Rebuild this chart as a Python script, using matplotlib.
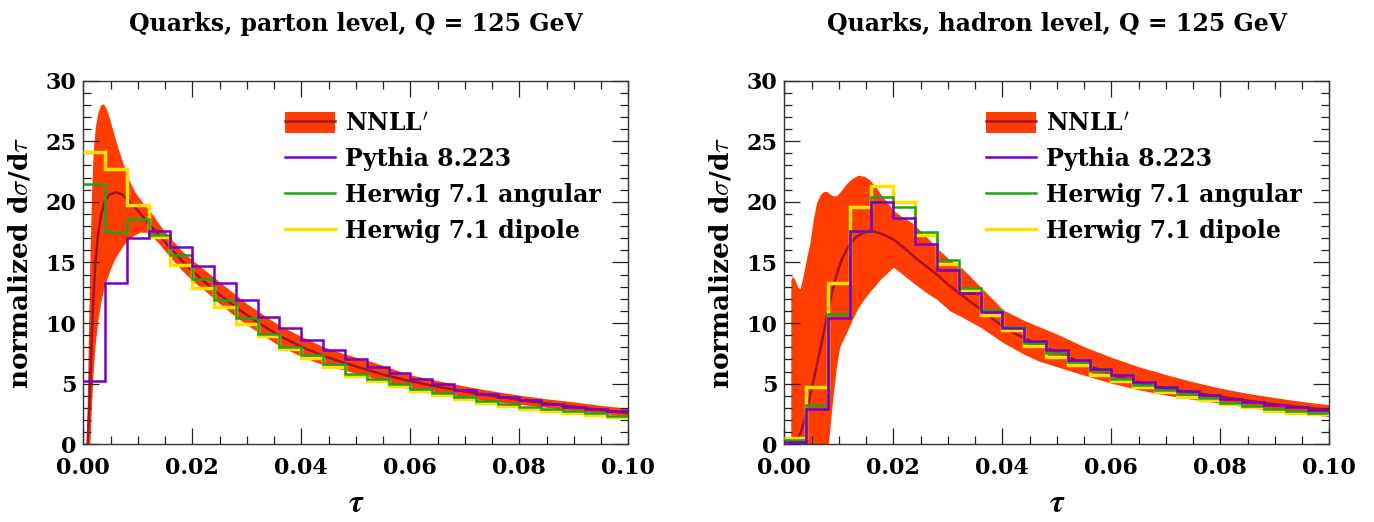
import matplotlib
matplotlib.use('Agg')
import matplotlib.pyplot as plt
import numpy as np
from matplotlib.patches import Patch
from matplotlib.lines import Line2D
from matplotlib.ticker import MultipleLocator, FormatStrFormatter

plt.rcParams['font.family'] = 'DejaVu Serif'
plt.rcParams['font.weight'] = 'bold'
plt.rcParams['mathtext.fontset'] = 'cm'

# bin edges shared by all MC histograms
edges = np.linspace(0.0, 0.1, 26)

# ---- parton level ----
pythia_parton = [5.25, 13.3, 17.05, 17.6, 16.3, 14.7, 13.3, 11.9, 10.5, 9.57, 8.6, 7.78, 7.0,
                 6.4, 5.9, 5.36, 4.98, 4.48, 4.13, 3.88, 3.66, 3.3, 3.1, 2.89, 2.75]
angular_parton = [21.5, 17.5, 18.6, 17.3, 15.6, 13.6, 11.9, 10.4, 9.07, 8.05, 7.37, 6.6, 5.8,
                  5.36, 4.95, 4.56, 4.21, 3.88, 3.57, 3.3, 3.1, 2.91, 2.75, 2.56, 2.37]
dipole_parton = [24.1, 22.7, 19.7, 17.1, 14.8, 12.9, 11.3, 9.9, 8.9, 7.86, 7.15, 6.4, 5.66,
                 5.22, 4.81, 4.43, 4.07, 3.74, 3.44, 3.16, 2.94, 2.75, 2.61, 2.42, 2.28]

tau_c_parton = [0.0008, 0.0012, 0.0015, 0.0018, 0.0022, 0.0027, 0.0033, 0.0040, 0.0048, 0.0060,
                0.0072, 0.0085, 0.0100, 0.0120, 0.0140, 0.0160, 0.0180, 0.0200, 0.0240, 0.0280,
                0.0320, 0.0360, 0.0400, 0.0440, 0.0480, 0.0550, 0.0600, 0.0650, 0.0700, 0.0750,
                0.0800, 0.0850, 0.0900, 0.0950, 0.1000]
nnll_c_parton = [0.0, 4.0, 8.0, 11.5, 14.8, 17.3, 19.0, 20.1, 20.6, 20.8,
                 20.6, 20.0, 19.3, 18.2, 17.2, 16.2, 15.2, 14.3, 12.7, 11.3,
                 10.05, 8.95, 8.05, 7.3, 6.7, 5.75, 5.2, 4.75, 4.35, 4.0,
                 3.66, 3.37, 3.1, 2.83, 2.57]

tau_b_parton = [0.0004, 0.0006, 0.0009, 0.0012, 0.0015, 0.0018, 0.0022, 0.0027, 0.0032, 0.0037,
                0.0043, 0.0050, 0.0058, 0.0066, 0.0075, 0.0085, 0.0095, 0.0105, 0.0115, 0.0125,
                0.0140, 0.0160, 0.0180, 0.0200, 0.0225, 0.0250, 0.0275, 0.0300, 0.0330, 0.0360,
                0.0400, 0.0440, 0.0480, 0.0530, 0.0600, 0.0650, 0.0700, 0.0750, 0.0800, 0.0850,
                0.0900, 0.0950, 0.1000]
nnll_hi_parton = [-1.0, 0.0, 8.0, 15.0, 20.5, 24.0, 26.2, 27.4, 28.0, 28.1,
                  27.6, 26.6, 25.3, 24.1, 22.9, 21.7, 20.8, 20.2, 19.6, 19.1,
                  18.1, 17.0, 16.0, 15.2, 14.3, 13.4, 12.5, 11.6, 10.7, 9.8,
                  8.9, 8.05, 7.45, 6.8, 5.73, 5.25, 4.8, 4.4, 4.05, 3.75,
                  3.5, 3.2, 2.98]
nnll_lo_parton = [-3.0, -2.5, -1.2, 0.0, 3.0, 5.9, 8.3, 10.3, 11.7, 12.7,
                  13.6, 14.5, 15.3, 15.9, 16.5, 17.0, 17.3, 17.5, 17.5, 17.2,
                  16.5, 15.4, 14.4, 13.5, 12.6, 11.6, 10.7, 9.85, 9.0, 8.1,
                  7.25, 6.55, 6.1, 5.5, 4.55, 4.15, 3.85, 3.55, 3.3, 3.05,
                  2.8, 2.55, 2.3]

# ---- hadron level ----
pythia_hadron = [0.2, 2.9, 10.4, 17.6, 19.95, 18.7, 16.5, 14.4, 12.5, 10.95, 9.6, 8.56, 7.8,
                 6.94, 6.25, 5.73, 5.17, 4.76, 4.43, 4.08, 3.77, 3.47, 3.25, 3.06, 2.84]
angular_hadron = [0.35, 3.25, 10.76, 17.6, 20.4, 19.6, 17.5, 15.2, 12.9, 11.1, 9.65, 8.34, 7.57,
                  6.8, 6.06, 5.4, 4.9, 4.49, 4.13, 3.8, 3.44, 3.17, 2.95, 2.76, 2.57]
dipole_hadron = [0.5, 4.76, 13.3, 19.6, 21.3, 19.95, 17.3, 14.9, 12.7, 10.7, 9.4, 8.12, 7.24,
                 6.5, 5.75, 5.2, 4.71, 4.3, 3.94, 3.66, 3.33, 3.06, 2.78, 2.6, 2.48]

tau_c_hadron = [0.0010, 0.0020, 0.0030, 0.0039, 0.0050, 0.0059, 0.0070, 0.0078, 0.0087, 0.0096,
                0.0105, 0.0115, 0.0125, 0.0135, 0.0145, 0.0155, 0.0165, 0.0180, 0.0200, 0.0220,
                0.0240, 0.0260, 0.0280, 0.0300, 0.0320, 0.0340, 0.0362, 0.0380, 0.0401, 0.0420,
                0.0441, 0.0468, 0.0500, 0.0550, 0.0600, 0.0650, 0.0700, 0.0750, 0.0800, 0.0850,
                0.0900, 0.0950, 0.1000]
nnll_c_hadron = [0.0, 0.2, 0.9, 2.3, 4.5, 6.4, 8.7, 10.5, 12.4, 14.0,
                 15.2, 16.1, 16.8, 17.2, 17.45, 17.55, 17.55, 17.35, 16.9, 16.2,
                 15.4, 14.7, 14.0, 13.2, 12.5, 11.8, 11.1, 10.45, 9.7, 9.2,
                 8.75, 8.2, 7.6, 6.65, 5.75, 5.1, 4.6, 4.25, 3.94, 3.6,
                 3.3, 3.05, 2.84]

tau_b_hadron = [0.00119, 0.0012, 0.0015, 0.0020, 0.0025, 0.0029, 0.0035, 0.0042, 0.0047, 0.0053,
                0.0059, 0.0066, 0.0072, 0.0078, 0.0081, 0.0085, 0.0090, 0.0096, 0.0102, 0.0114,
                0.0125, 0.0136, 0.0147, 0.0157, 0.0167, 0.0176, 0.0188, 0.0200, 0.0215, 0.0237,
                0.0261, 0.0280, 0.0304, 0.0322, 0.0362, 0.0401, 0.0441, 0.0468, 0.0500, 0.0550,
                0.0600, 0.0650, 0.0700, 0.0750, 0.0800, 0.0850, 0.0900, 0.0950, 0.1000]
nnll_hi_hadron = [-1.0, 13.5, 13.9, 13.5, 12.95, 12.8, 14.0, 15.6, 16.6, 18.5,
                  19.9, 20.6, 20.85, 20.85, 20.75, 20.6, 20.5, 20.5, 20.8, 21.5,
                  21.95, 22.2, 22.1, 21.8, 21.3, 20.7, 20.0, 19.3, 18.8, 18.2,
                  17.1, 16.2, 15.2, 14.7, 12.9, 11.1, 10.2, 9.7, 9.1, 8.05,
                  7.18, 6.4, 5.75, 5.15, 4.63, 4.2, 3.85, 3.53, 3.25]
nnll_lo_hadron = [-8.0, -8.0, -8.0, -8.0, -8.0, -8.0, -8.0, -8.0, -8.0, -8.0,
                  -8.0, -6.0, -4.0, -1.0, 0.0, 2.0, 4.2, 6.5, 8.06, 9.2,
                  10.3, 11.3, 12.0, 12.6, 13.1, 13.6, 14.1, 14.6, 14.1, 13.3,
                  12.5, 11.95, 11.0, 10.6, 9.6, 8.4, 7.4, 6.85, 6.4, 5.7,
                  5.04, 4.5, 4.05, 3.7, 3.39, 3.05, 2.75, 2.5, 2.29]

titles = ['Quarks, parton level, Q = 125 GeV', 'Quarks, hadron level, Q = 125 GeV']

band_col = '#ff3d00'
line_col = '#a3122e'
pythia_col = '#7a00c4'
angular_col = '#1fa31f'
dipole_col = '#ffe100'

fig = plt.figure(figsize=(13.74, 5.22), dpi=100)
ax_l = fig.add_axes([0.0606, 0.1489, 0.3967, 0.6966])
ax_r = fig.add_axes([0.5708, 0.1489, 0.3967, 0.6966])

panels = [
    (ax_l, tau_b_parton, nnll_lo_parton, nnll_hi_parton, tau_c_parton, nnll_c_parton,
     pythia_parton, angular_parton, dipole_parton, titles[0]),
    (ax_r, tau_b_hadron, nnll_lo_hadron, nnll_hi_hadron, tau_c_hadron, nnll_c_hadron,
     pythia_hadron, angular_hadron, dipole_hadron, titles[1]),
]

for ax, tb, lo, hi, tc, cc, py, ang, dip, title in panels:
    ax.fill_between(tb, lo, hi, color=band_col, lw=0, zorder=1)
    ax.plot(tc, cc, color=line_col, lw=1.8, zorder=2)
    ax.stairs(dip, edges, baseline=None, color=dipole_col, lw=2.5, zorder=3)
    ax.stairs(ang, edges, baseline=None, color=angular_col, lw=1.8, zorder=4)
    ax.stairs(py, edges, baseline=None, color=pythia_col, lw=1.8, zorder=5)

    ax.set_xlim(0, 0.1)
    ax.set_ylim(0, 30)
    ax.xaxis.set_major_locator(MultipleLocator(0.02))
    ax.xaxis.set_minor_locator(MultipleLocator(0.005))
    ax.xaxis.set_major_formatter(FormatStrFormatter('%.2f'))
    ax.yaxis.set_major_locator(MultipleLocator(5))
    ax.yaxis.set_minor_locator(MultipleLocator(1))
    ax.tick_params(which='both', direction='in', top=True, right=True, labelsize=16,
                   color='#222222', width=0.9)
    ax.tick_params(which='major', length=11.5)
    ax.tick_params(which='minor', length=5.8)
    ax.tick_params(axis='x', pad=9)
    ax.tick_params(axis='y', pad=5)
    for s in ax.spines.values():
        s.set_color('#333333')
        s.set_linewidth(1.0)

    ax.set_title(title, fontsize=17, fontweight='bold', pad=36)
    ax.set_xlabel(r'$\boldsymbol{\tau}$', fontsize=23, math_fontfamily='stix', labelpad=7)
    ax.set_ylabel(r'normalized d$\sigma$/d$\tau$', fontsize=19,
                  fontweight='bold', math_fontfamily='cm', labelpad=9)

    handles = [
        (Patch(facecolor=band_col, edgecolor='none'), Line2D([], [], color=line_col, lw=1.8)),
        Line2D([], [], color=pythia_col, lw=1.8),
        Line2D([], [], color=angular_col, lw=1.8),
        Line2D([], [], color=dipole_col, lw=2.5),
    ]
    labels = [r"NNLL$'$", 'Pythia 8.223', 'Herwig 7.1 angular', 'Herwig 7.1 dipole']
    ax.legend(handles, labels, loc='upper left', bbox_to_anchor=(0.37, 0.915), frameon=False,
              prop={'size': 17, 'weight': 'bold'}, handlelength=2.1, handleheight=1.0,
              handletextpad=0.45, labelspacing=0.5, borderpad=0.0, borderaxespad=0.0)

fig.savefig('out.png', dpi=100)
